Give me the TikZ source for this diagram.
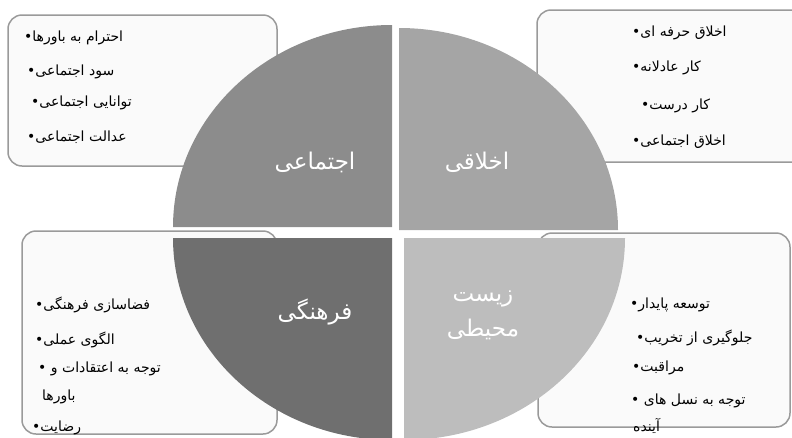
\documentclass[tikz,border=0pt]{standalone}
\usepackage{fontspec}
\newfontfamily\arabicfont[Script=Arabic]{DejaVu Sans}
\TeXXeTstate=1
\definecolor{qTL}{HTML}{8C8C8C}
\definecolor{qTR}{HTML}{A5A5A5}
\definecolor{qBL}{HTML}{6F6F6F}
\definecolor{qBR}{HTML}{BDBDBD}
\definecolor{boxfill}{HTML}{FAFAFA}
\definecolor{boxline}{HTML}{9A9A9A}
\tikzset{
  infobox/.style={draw=boxline, fill=boxfill, line width=1.5pt, rounded corners=14pt},
  item/.style={anchor=west, inner sep=0pt, text=black, font=\arabicfont\fontsize{14}{16}\selectfont},
  lbl/.style={inner sep=0pt, text=white, align=center, font=\arabicfont\fontsize{23}{35}\selectfont}
}
\begin{document}
\begin{tikzpicture}[x=1pt,y=-1pt]
\useasboundingbox (0,0) rectangle (792,437);
\clip (0,0) rectangle (792,437);
% boxes
\draw[infobox] (8,15) rectangle (277,166);
\draw[infobox] (537,10) rectangle (812,162);
\draw[infobox] (22,231) rectangle (277,434);
\draw[infobox] (538,233) rectangle (790,427);
% quadrants
\fill[qTL] (392,227) coordinate (cTL) -- ++(-219,0) arc[start angle=180,end angle=270,x radius=219,y radius=202] -- cycle;
\fill[qTR] (399,230) coordinate (cTR) -- ++(0,-202) arc[start angle=270,end angle=360,x radius=219,y radius=202] -- cycle;
\fill[qBR] (404,238) coordinate (cBR) -- ++(221,0) arc[start angle=0,end angle=90,x radius=221,y radius=202] -- cycle;
\fill[qBL] (392,238) coordinate (cBL) -- ++(0,202) arc[start angle=90,end angle=180,x radius=219,y radius=202] -- cycle;
% labels
\node[lbl] (lTL) at (315,162) {\beginR اجتماعی\endR};
\node[lbl] (lTR) at (477,162) {\beginR اخلاقی\endR};
\node[lbl] (lBL) at (315,312) {\beginR فرهنگی\endR};
\node[lbl] (lBR) at (483,315) {\beginR زیست\endR\\\beginR محیطی\endR};
% top-left items
\node[item] (a1) at (24,38) {\beginR احترام به باورها•\endR};
\node[item] (a2) at (27,72) {\beginR سود اجتماعی•\endR};
\node[item] (a3) at (31,103) {\beginR توانایی اجتماعی•\endR};
\node[item] (a4) at (27,137) {\beginR عدالت اجتماعی•\endR};
% top-right items
\node[item] (b1) at (632,33) {\beginR اخلاق حرفه ای•\endR};
\node[item] (b2) at (632,68) {\beginR کار عادلانه•\endR};
\node[item] (b3) at (641,106) {\beginR کار درست•\endR};
\node[item] (b4) at (632,142) {\beginR اخلاق اجتماعی•\endR};
% bottom-left items
\node[item] (c1) at (35,305) {\beginR فضاسازی فرهنگی•\endR};
\node[item] (c2) at (35,340) {\beginR الگوی عملی•\endR};
\node[item] (c3) at (38,369) {\beginR توجه به اعتقادات و •\endR};
\node[item] (c4) at (42,397) {\beginR باورها\endR};
\node[item] (c5) at (32,428) {\beginR رضایت•\endR};
% bottom-right items
\node[item] (d1) at (630,305) {\beginR توسعه پایدار•\endR};
\node[item] (d2) at (636,338) {\beginR جلوگیری از تخریب•\endR};
\node[item] (d3) at (632,368) {\beginR مراقبت•\endR};
\node[item] (d4) at (631,401) {\beginR توجه به نسل های •\endR};
\node[item] (d5) at (633,426) {\beginR آینده\endR};
\end{tikzpicture}
\end{document}
